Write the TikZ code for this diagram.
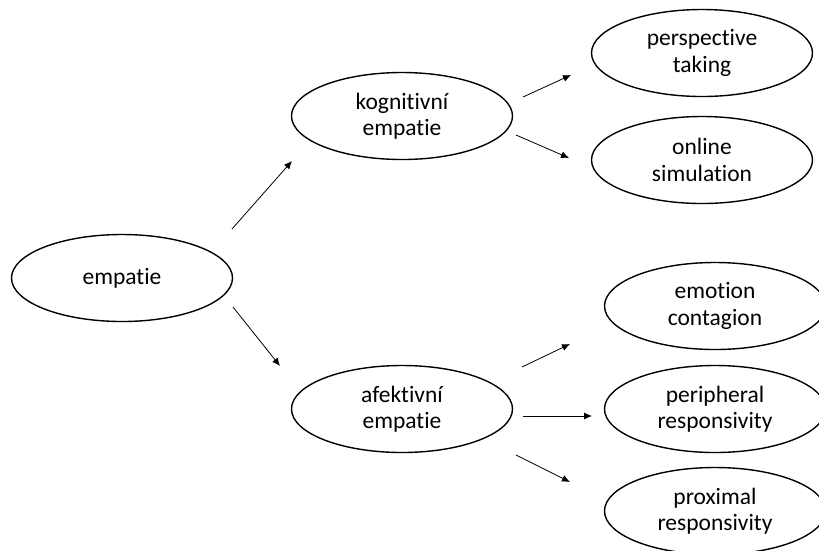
\documentclass[tikz,border=0pt]{standalone}
\usepackage{fontspec}
\setmainfont{Carlito}[Ligatures=NoCommon]
\usetikzlibrary{shapes.geometric,arrows.meta}
\begin{document}
\begin{tikzpicture}[x=1pt,y=-1pt,
  concept/.style={draw=black,line width=1.4pt,ellipse,inner sep=0pt,
    minimum width=221pt,minimum height=87pt,align=center,
    font=\fontsize{23.5}{26.5}\selectfont},
  link/.style={draw=black,line width=0.8pt,-{Latex[length=8pt,width=7pt]}}]
\useasboundingbox (0,0) rectangle (819,550);
% concept ellipses
\node[concept] (emp) at (122,278) {empatie};
\node[concept] (kog) at (402,116) {kognitivní\\empatie};
\node[concept] (afe) at (402,409) {afektivní\\empatie};
\node[concept] (per) at (702,53) {perspective\\taking};
\node[concept] (onl) at (702,160) {online\\simulation};
\node[concept] (emo) at (715,306) {emotion\\contagion};
\node[concept] (pph) at (715,409) {peripheral\\responsivity};
\node[concept] (prx) at (715,511) {proximal\\responsivity};
% arrow end points
\coordinate (e1a) at (232,229); \coordinate (e1b) at (292,161);
\coordinate (e2a) at (233,307); \coordinate (e2b) at (280,366);
\coordinate (k1a) at (523,97);  \coordinate (k1b) at (571,75);
\coordinate (k2a) at (516,135); \coordinate (k2b) at (569,158);
\coordinate (a1a) at (522,367); \coordinate (a1b) at (570,344);
\coordinate (a2a) at (523,416); \coordinate (a2b) at (592,416);
\coordinate (a3a) at (516,455); \coordinate (a3b) at (570,482);
% arrows
\draw[link] (e1a) -- (e1b);
\draw[link] (e2a) -- (e2b);
\draw[link] (k1a) -- (k1b);
\draw[link] (k2a) -- (k2b);
\draw[link] (a1a) -- (a1b);
\draw[link] (a2a) -- (a2b);
\draw[link] (a3a) -- (a3b);
\end{tikzpicture}
\end{document}
